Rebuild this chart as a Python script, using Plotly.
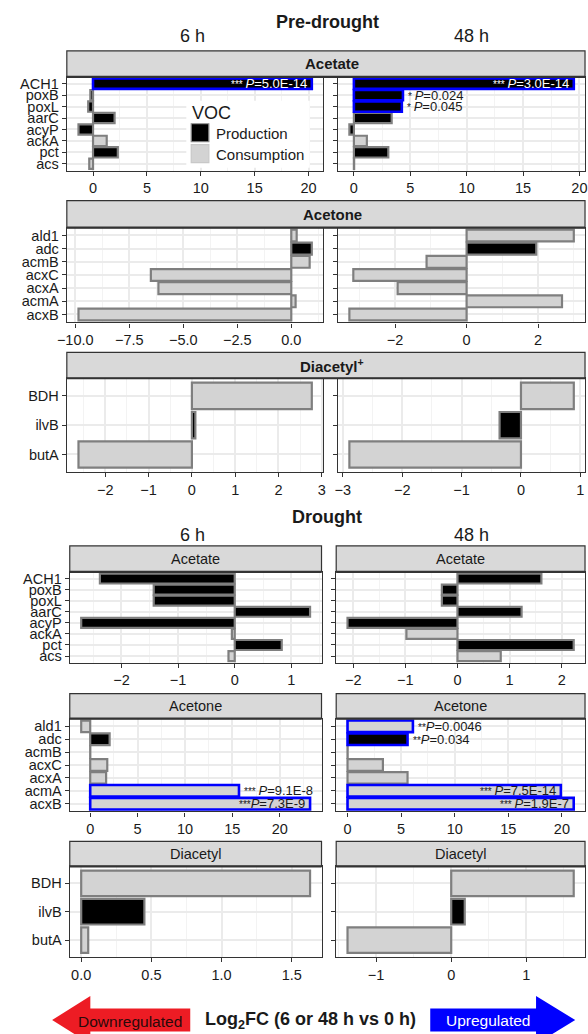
import plotly.graph_objects as go

W, H = 588, 1034
FONT = "Liberation Sans, Arial, Helvetica, sans-serif"

# ---------------- data ----------------
acetate_genes = ["ACH1", "poxB", "poxL", "aarC", "acyP", "ackA", "pct", "acs"]
acetate_role = ["P", "P", "P", "P", "P", "C", "P", "C"]
acetone_genes = ["ald1", "adc", "acmB", "acxC", "acxA", "acmA", "acxB"]
acetone_role = ["C", "P", "C", "C", "C", "C", "C"]
diacetyl_genes = ["BDH", "ilvB", "butA"]
diacetyl_role = ["C", "P", "C"]

pre_6h_acetate = [20.3, -0.25, -0.45, 2.0, -1.35, 1.27, 2.3, -0.35]
pre_48h_acetate = [19.5, 4.35, 4.25, 3.35, -0.4, 1.15, 3.05, 0.02]
pre_6h_acetone = [0.25, 0.95, 0.85, -6.5, -6.15, 0.2, -9.85]
pre_48h_acetone = [3.0, 1.95, -1.12, -3.17, -1.93, 2.67, -3.28]
pre_6h_diacetyl = [2.77, 0.08, -2.62]
pre_48h_diacetyl = [0.89, -0.36, -2.89]

dr_6h_acetate = [-2.38, -1.43, -1.43, 1.33, -2.71, -0.05, 0.83, -0.11]
dr_48h_acetate = [1.61, -0.3, -0.3, 1.23, -2.11, -0.98, 2.23, 0.83]
dr_6h_acetone = [-0.95, 2.05, 0.01, 1.8, 1.68, 15.7, 23.2]
dr_48h_acetone = [6.1, 5.6, 0.01, 3.3, 5.6, 19.9, 21.1]
dr_6h_diacetyl = [1.63, 0.45, 0.05]
dr_48h_diacetyl = [1.63, 0.18, -1.38]

# significance: (gene, stars, P value, label placement)
sig_pre_6h_acetate = [("ACH1", "*** ", "5.0E-14", "in")]
sig_pre_48h_acetate = [("ACH1", "*** ", "3.0E-14", "in"),
                       ("poxB", "* ", "0.024", "out"),
                       ("poxL", "* ", "0.045", "out")]
sig_dr_6h_acetone = [("acmA", "*** ", "9.1E-8", "out"),
                     ("acxB", "***", "7.3E-9", "in")]
sig_dr_48h_acetone = [("ald1", "**", "0.0046", "out"),
                      ("adc", "**", "0.034", "out"),
                      ("acmA", "*** ", "7.5E-14", "in"),
                      ("acxB", "*** ", "1.9E-7", "in")]

section_titles = ["Pre-drought", "Drought"]
time_titles = ["6 h", "48 h"]
pre_strip_titles = ["<b>Acetate</b>", "<b>Acetone</b>", "<b>Diacetyl<sup>+</sup></b>"]
dr_strip_titles = ["Acetate", "Acetone", "Diacetyl"]
voc_levels = ["Production", "Consumption"]

# ---------------- style ----------------
FILL = {"P": "#000000", "C": "#D3D3D3"}
GRAY = "#7F7F7F"
BLUE = "#0000FF"
TXT = "#1a1a1a"

pre_rows = [(50, 76, 170), (200, 227, 322), (352, 378, 472)]  # strip top, panel top, panel bottom
dr_rows = [(546, 572, 663), (694, 719, 812), (842, 867, 958)]
pre_cols = [(58, 320), (335, 587)]
dr_cols = [(61, 318), (333, 587)]

panels = [
    (0, 0, 0, acetate_genes, acetate_role, pre_6h_acetate, sig_pre_6h_acetate, 5, ""),
    (0, 0, 1, acetate_genes, acetate_role, pre_48h_acetate, sig_pre_48h_acetate, 5, ""),
    (0, 1, 0, acetone_genes, acetone_role, pre_6h_acetone, [], 2.5, ".1f"),
    (0, 1, 1, acetone_genes, acetone_role, pre_48h_acetone, [], 2, ""),
    (0, 2, 0, diacetyl_genes, diacetyl_role, pre_6h_diacetyl, [], 1, ""),
    (0, 2, 1, diacetyl_genes, diacetyl_role, pre_48h_diacetyl, [], 1, ""),
    (1, 0, 0, acetate_genes, acetate_role, dr_6h_acetate, [], 1, ""),
    (1, 0, 1, acetate_genes, acetate_role, dr_48h_acetate, [], 1, ""),
    (1, 1, 0, acetone_genes, acetone_role, dr_6h_acetone, sig_dr_6h_acetone, 5, ""),
    (1, 1, 1, acetone_genes, acetone_role, dr_48h_acetone, sig_dr_48h_acetone, 5, ""),
    (1, 2, 0, diacetyl_genes, diacetyl_role, dr_6h_diacetyl, [], 0.5, ".1f"),
    (1, 2, 1, diacetyl_genes, diacetyl_role, dr_48h_diacetyl, [], 1, ""),
]


def X(p):
    return p / W


def Y(p):
    return 1 - p / H


def note(x, y, text, size, color=TXT, xanchor="center", **kw):
    d = dict(x=X(x), y=Y(y), xref="paper", yref="paper", text=text, showarrow=False,
             xanchor=xanchor, yanchor="middle", font=dict(size=size, color=color, family=FONT))
    d.update(kw)
    return d


fig = go.Figure()
layout = {}
shapes = []
annotations = []

for k, (sec, row, col, genes, roles, vals, sig, dtick, fmt) in enumerate(panels, start=1):
    st, top, bot = (pre_rows if sec == 0 else dr_rows)[row]
    x0, x1 = (pre_cols if sec == 0 else dr_cols)[col]
    xa = "x" if k == 1 else f"x{k}"
    ya = "y" if k == 1 else f"y{k}"
    sig_genes = {s[0] for s in sig}
    order = [i for i in range(len(genes)) if genes[i] not in sig_genes] + \
            [i for i in range(len(genes)) if genes[i] in sig_genes]
    fig.add_trace(go.Bar(
        x=[vals[i] for i in order], y=[genes[i] for i in order],
        orientation="h", width=0.9,
        marker=dict(color=[FILL[roles[i]] for i in order],
                    line=dict(color=[BLUE if genes[i] in sig_genes else GRAY for i in order],
                              width=[2.6 if genes[i] in sig_genes else 2.2 for i in order])),
        xaxis=xa, yaxis=ya, showlegend=False, hoverinfo="skip"))

    lo = min(0, min(vals))
    hi = max(0, max(vals))
    pad = 0.05 * (hi - lo)
    layout["xaxis" + ("" if k == 1 else str(k))] = dict(
        domain=[X(x0), X(x1)], anchor=ya, range=[lo - pad, hi + pad],
        tickmode="linear", tick0=0, dtick=dtick, tickformat=fmt,
        ticks="outside", ticklen=4, tickwidth=1.3, tickcolor="#333",
        showline=True, linecolor="#333", linewidth=1.3, mirror=True,
        showgrid=True, gridcolor="#EBEBEB", gridwidth=1.7, zeroline=False,
        minor=dict(dtick=dtick / 2, tick0=0, showgrid=True, gridcolor="#F3F3F3",
                   gridwidth=0.9, ticks=""),
        tickfont=dict(size=14.5, color=TXT, family=FONT), fixedrange=True)
    layout["yaxis" + ("" if k == 1 else str(k))] = dict(
        domain=[Y(bot), Y(top)], anchor=xa, type="category",
        categoryorder="array", categoryarray=genes,
        range=[len(genes) - 0.4, -0.6],
        tickmode="linear", tick0=0, dtick=1,
        ticks="outside", ticklen=4, tickwidth=1.3, tickcolor="#333",
        showline=True, linecolor="#333", linewidth=1.3, mirror=True,
        showgrid=True, gridcolor="#EBEBEB", gridwidth=1.7, zeroline=False,
        showticklabels=(col == 0),
        tickfont=dict(size=14.5, color=TXT, family=FONT), fixedrange=True)

    # significance labels
    for (g, stars, p, pos) in sig:
        i = genes.index(g)
        v = vals[i]
        if pos == "in":
            color = "#FFFFFF" if roles[i] == "P" else TXT
            xanchor, xshift = "right", -3
        else:
            color = TXT
            xanchor, xshift = "left", 3
        annotations.append(dict(
            x=v, y=i, xref=xa, yref=ya, xanchor=xanchor, yanchor="middle", xshift=xshift,
            text=f"<span style='font-size:10px'>{stars}</span><i>P</i>={p}",
            showarrow=False, font=dict(size=13, color=color, family=FONT)))

    # drought strips (per panel)
    if sec == 1:
        shapes.append(dict(type="rect", xref="paper", yref="paper",
                           x0=X(x0), x1=X(x1), y0=Y(top), y1=Y(st),
                           fillcolor="#D9D9D9", line=dict(color="#333", width=1.2), layer="above"))
        shapes.append(dict(type="line", xref="paper", yref="paper",
                           x0=X(x0), x1=X(x1), y0=Y(top), y1=Y(top),
                           line=dict(color="#333", width=2.2), layer="above"))
        annotations.append(note((x0 + x1) / 2, (st + top) / 2, dr_strip_titles[row], 14.5))

# pre-drought spanning strips
for row, (st, top, bot) in enumerate(pre_rows):
    shapes.append(dict(type="rect", xref="paper", yref="paper",
                       x0=X(58), x1=X(587), y0=Y(top), y1=Y(st),
                       fillcolor="#D9D9D9", line=dict(color="#333", width=1.2), layer="above"))
    shapes.append(dict(type="line", xref="paper", yref="paper",
                       x0=X(58), x1=X(587), y0=Y(top), y1=Y(top),
                       line=dict(color="#333", width=2.2), layer="above"))
    annotations.append(note(329, (st + top) / 2, pre_strip_titles[row], 15))

# section and time titles
for sec, (ty, hy) in enumerate([(21, 35.5), (517, 535)]):
    annotations.append(note(324, ty, f"<b>{section_titles[sec]}</b>", 18))
    for c, cx in enumerate([186, 471]):
        annotations.append(note(cx, hy, time_titles[c], 18))

# legend (VOC)
shapes.append(dict(type="rect", xref="paper", yref="paper", x0=X(180), x1=X(306),
                   y0=Y(167), y1=Y(100), fillcolor="white", line=dict(width=0), layer="above"))
for j, (lvl, role) in enumerate(zip(voc_levels, ["P", "C"])):
    y0 = 123 + 21 * j
    shapes.append(dict(type="rect", xref="paper", yref="paper", x0=X(185), x1=X(203),
                       y0=Y(y0 + 18), y1=Y(y0), fillcolor=FILL[role],
                       line=dict(color="#8c8c8c" if role == "P" else "#c8c8c8", width=1.2),
                       layer="above"))
    annotations.append(note(208, y0 + 10, lvl, 15, xanchor="left"))
annotations.append(note(184, 112, "VOC", 18, xanchor="left"))


# bottom arrows
def path(pts):
    return "M" + " L".join(f"{X(a):.5f},{Y(b):.5f}" for a, b in pts) + " Z"


shapes.append(dict(type="path", xref="paper", yref="paper", fillcolor="#ED1C24",
                   line=dict(width=0), layer="above",
                   path=path([(43, 1021), (82, 997), (82, 1009.5), (184, 1009.5),
                              (184, 1032.5), (82, 1032.5), (82, 1045)])))
shapes.append(dict(type="path", xref="paper", yref="paper", fillcolor="#0000FF",
                   line=dict(width=0), layer="above",
                   path=path([(577, 1021), (537, 997), (537, 1009.5), (429, 1009.5),
                              (429, 1032.5), (537, 1032.5), (537, 1045)])))
annotations.append(note(122, 1022, "Downregulated", 15.5, color="#2a0a0a"))
annotations.append(note(488, 1021, "Upregulated", 15.5, color="#FFFFFF"))
annotations.append(note(306.5, 1021, "<b>Log<sub>2</sub>FC (6 or 48 h vs 0 h)</b>", 18))

fig.update_layout(
    width=W, height=H, margin=dict(l=0, r=0, t=0, b=0),
    paper_bgcolor="white", plot_bgcolor="white",
    barmode="overlay", showlegend=False,
    font=dict(family=FONT, color=TXT),
    shapes=shapes, annotations=annotations, **layout)

fig.write_html("out.html", config={"displayModeBar": False, "staticPlot": False},
               post_script="document.body.style.margin='0px';document.body.style.overflow='hidden';")
